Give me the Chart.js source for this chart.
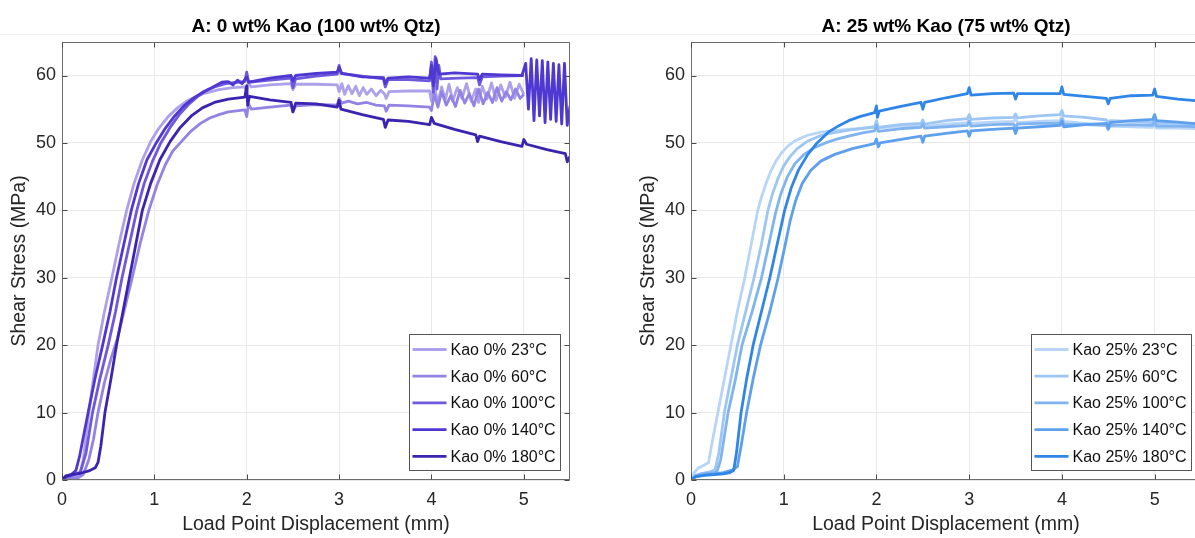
<!DOCTYPE html>
<html>
<head>
<meta charset="utf-8">
<title>Shear stress vs load point displacement</title>
<script src="https://cdn.jsdelivr.net/npm/chart.js@4.4.1/dist/chart.umd.min.js"></script>
<style>
  html, body { margin: 0; padding: 0; background: #fff; overflow: hidden; }
  #wrap { position: relative; width: 1195px; height: 538px; overflow: hidden; background: #fff; }
  .panel { position: absolute; top: 0; }
  #p1 { left: 0; }
  #p2 { left: 629px; }
  .rule { position: absolute; left: 0; top: 34px; width: 1195px; height: 1px; background: #f2f2f2; }
</style>
</head>
<body>
<div id="wrap">
  <div class="rule"></div>
  <canvas id="p1" class="panel" width="600" height="538"></canvas>
  <canvas id="p2" class="panel" width="602" height="538"></canvas>
</div>
<script>
// ---- Panel titles, axis titles, tick values ----
const titleLeft = 'A: 0 wt% Kao (100 wt% Qtz)';
const titleRight = 'A: 25 wt% Kao (75 wt% Qtz)';
const xTitle = 'Load Point Displacement (mm)';
const yTitle = 'Shear Stress (MPa)';
const xTicks = [0, 1, 2, 3, 4, 5];
const yTicks = [0, 10, 20, 30, 40, 50, 60];

// ---- Legend labels ----
const labels0 = ['Kao 0% 23°C', 'Kao 0% 60°C', 'Kao 0% 100°C', 'Kao 0% 140°C', 'Kao 0% 180°C'];
const labels25 = ['Kao 25% 23°C', 'Kao 25% 60°C', 'Kao 25% 100°C', 'Kao 25% 140°C', 'Kao 25% 180°C'];

// ---- 0 wt% kaolinite: [displacement mm, shear stress MPa] ----
const kao0_23C = [
  [0,0],[0.05,0.3],[0.14,0.4],[0.19,0.8],[0.23,3],[0.29,10],[0.34,15],[0.39,20],[0.46,25],[0.54,30],
  [0.62,35.2],[0.7,40],[0.78,44],[0.87,47.5],[0.96,50.2],[1.05,52.2],[1.15,53.9],[1.25,55.2],[1.35,56.2],
  [1.45,56.9],[1.55,57.4],[1.7,57.9],[1.85,58.2],[1.98,58.3],[2.0,57.6],[2.02,58.8],[2.05,58.3],[2.25,58.6],
  [2.48,58.8],[2.5,57.9],[2.53,58.7],[2.75,58.7],[2.98,58.6],[3.0,57.6],[3.03,58.8],[3.06,57.2],[3.1,58.5],
  [3.14,57.3],[3.18,58.4],[3.22,57.0],[3.26,58.2],[3.3,57.2],[3.35,58.0],[3.4,57.0],[3.45,57.8],[3.49,57.3],
  [3.51,56.6],[3.54,57.6],[3.75,57.7],[3.98,57.7],[4.0,56.2],[4.03,58.5],[4.07,56.0],[4.11,58.3],[4.15,56.4],
  [4.19,58.7],[4.23,56.2],[4.28,58.2],[4.33,56.6],[4.38,58.8],[4.43,56.2],[4.48,58.0],[4.51,56.0],[4.55,58.4],
  [4.6,56.5],[4.65,58.9],[4.7,56.3],[4.75,58.6],[4.8,56.8],[4.85,59.0],[4.9,56.6],[4.95,58.7],[5.0,57.2]
];
const kao0_60C = [
  [0,0],[0.08,0.2],[0.17,0.3],[0.23,0.8],[0.29,3],[0.34,6],[0.39,10],[0.46,14.5],[0.53,18],[0.6,21],
  [0.68,25.5],[0.76,30],[0.85,35.3],[0.94,40],[1.03,43.8],[1.12,46.8],[1.2,48.8],[1.28,50],[1.4,51.8],
  [1.5,52.9],[1.6,53.7],[1.7,54.2],[1.8,54.6],[1.98,54.9],[2.0,53.9],[2.02,55.8],[2.05,55.0],[2.25,55.3],
  [2.48,55.6],[2.5,54.6],[2.53,55.5],[2.75,55.7],[2.98,55.6],[3.0,56.6],[3.03,55.9],[3.1,56.2],[3.2,55.8],
  [3.3,56.0],[3.4,55.6],[3.49,55.5],[3.51,54.7],[3.54,55.6],[3.75,55.5],[3.98,55.3],[4.0,54.8],[4.03,57.2],
  [4.07,55.3],[4.11,57.6],[4.16,55.6],[4.21,57.0],[4.26,55.4],[4.31,57.8],[4.36,55.9],[4.41,57.3],[4.46,55.5],
  [4.51,58.0],[4.56,55.8],[4.61,57.5],[4.66,56.0],[4.71,58.2],[4.76,56.2],[4.81,57.6],[4.86,56.4],[4.91,58.0],
  [4.96,56.6],[5.0,57.2]
];
const kao0_100C = [
  [0,0],[0.05,0.5],[0.12,0.7],[0.2,1.2],[0.26,4],[0.33,10],[0.41,15],[0.5,20],[0.58,25],[0.65,30],
  [0.73,35],[0.81,40],[0.89,44],[0.98,47.3],[1.07,50],[1.17,52.3],[1.27,54.2],[1.37,55.7],[1.47,56.9],
  [1.57,57.8],[1.67,58.4],[1.77,58.8],[1.9,59.0],[1.98,59.1],[2.0,60.5],[2.02,59.0],[2.25,59.3],[2.48,59.6],
  [2.5,58.2],[2.53,59.5],[2.75,59.9],[2.98,60.2],[3.0,61.5],[3.02,60.3],[3.25,59.9],[3.48,59.5],[3.5,58.3],
  [3.53,59.4],[3.75,59.4],[3.98,59.2],[4.0,62.0],[4.02,57.5],[4.04,62.8],[4.06,58.0],[4.08,61.5],[4.1,59.5],
  [4.3,59.6],[4.5,59.7],[4.52,58.6],[4.55,59.8],[4.75,59.9],[5.0,60.0]
];
const kao0_140C = [
  [0,0],[0.04,0.6],[0.1,0.8],[0.15,1.4],[0.19,3.5],[0.24,7],[0.29,10.5],[0.36,15.2],[0.44,20],[0.52,25],
  [0.59,30],[0.67,35],[0.75,40],[0.83,44],[0.92,47.5],[1.02,50],[1.12,52.2],[1.22,54],[1.32,55.5],[1.42,56.6],
  [1.52,57.5],[1.62,58.2],[1.73,59.0],[1.8,59.1],[1.85,58.6],[1.9,59.3],[1.95,58.8],[2.0,59.8],[2.02,59.0],
  [2.25,59.6],[2.48,60.0],[2.5,59.2],[2.53,60.0],[2.75,60.3],[2.98,60.5],[3.0,61.2],[3.03,60.3],[3.25,59.8],
  [3.48,59.7],[3.5,58.8],[3.53,59.6],[3.75,59.8],[3.98,59.6],[4.0,61.5],[4.02,58.5],[4.05,62.5],[4.08,60.2],
  [4.25,60.4],[4.5,60.2],[4.52,59.4],[4.55,60.2],[4.75,60.1],[4.98,60.0],[5.02,61.8],[5.05,55.0],[5.08,62.5],
  [5.11,53.3],[5.14,62.3],[5.17,54.0],[5.2,62.2],[5.23,53.0],[5.26,62.0],[5.29,53.5],[5.32,61.8],[5.35,53.2],
  [5.38,61.6],[5.41,52.8],[5.44,61.8],[5.47,52.6],[5.5,55.5]
];
const kao0_180C = [
  [0,0],[0.04,0.5],[0.1,0.8],[0.2,1.0],[0.3,1.4],[0.36,1.8],[0.39,2.6],[0.42,5],[0.465,10],[0.53,15],
  [0.59,20],[0.66,25],[0.73,30],[0.8,35],[0.87,40],[0.96,44],[1.06,47.5],[1.17,50.2],[1.28,52.3],[1.4,54],
  [1.52,55.2],[1.65,56.0],[1.8,56.5],[1.98,56.8],[2.0,58.5],[2.01,55.6],[2.03,56.9],[2.25,56.4],[2.48,56.0],
  [2.5,54.6],[2.53,55.9],[2.75,55.8],[2.98,55.3],[3.0,56.3],[3.02,55.0],[3.25,54.2],[3.48,53.5],[3.5,52.3],
  [3.53,53.4],[3.75,53.2],[3.98,52.7],[4.0,53.8],[4.03,52.9],[4.25,52.0],[4.48,51.2],[4.5,50.2],[4.52,51.0],
  [4.75,50.2],[4.98,49.5],[5.0,50.5],[5.03,49.8],[5.25,49.0],[5.45,48.4],[5.47,47.2],[5.5,48.0]
];

// ---- 25 wt% kaolinite: [displacement mm, shear stress MPa] ----
const kao25_23C = [
  [0,0],[0.03,1.0],[0.08,1.8],[0.14,2.2],[0.19,2.6],[0.22,5],[0.29,10],[0.36,15],[0.43,20],[0.5,25],
  [0.58,30],[0.65,35],[0.72,40],[0.76,42],[0.81,44],[0.86,45.8],[0.92,47.4],[0.98,48.6],[1.05,49.6],
  [1.12,50.3],[1.25,51.1],[1.4,51.6],[1.6,51.9],[1.8,52.1],[1.98,52.3],[2.0,53.0],[2.02,52.2],[2.25,52.5],
  [2.48,52.6],[2.5,53.1],[2.52,52.4],[2.75,52.8],[2.98,53.0],[3.0,53.6],[3.02,52.9],[3.25,53.1],[3.48,53.2],
  [3.5,53.6],[3.52,53.0],[3.75,53.2],[3.98,53.3],[4.0,54.0],[4.02,53.2],[4.25,52.9],[4.48,52.6],[4.5,52.0],
  [4.52,52.5],[4.75,52.4],[4.98,52.3],[5.0,52.8],[5.02,52.2],[5.25,52.2],[5.5,52.1]
];
const kao25_60C = [
  [0,0],[0.05,0.7],[0.12,1.0],[0.2,1.2],[0.26,1.5],[0.3,4],[0.36,10],[0.43,15],[0.5,20],[0.59,25],
  [0.68,30],[0.76,35],[0.83,40],[0.88,42.5],[0.94,44.8],[1.0,46.6],[1.07,48.0],[1.15,49.2],[1.25,50.2],
  [1.38,51],[1.5,51.4],[1.7,51.9],[1.98,52.4],[2.0,53.3],[2.02,52.3],[2.25,52.7],[2.48,52.9],[2.5,53.4],
  [2.52,52.8],[2.75,53.3],[2.98,53.6],[3.0,54.2],[3.02,53.5],[3.25,53.7],[3.48,53.8],[3.5,54.3],[3.52,53.7],
  [3.75,54.0],[3.98,54.2],[4.0,54.8],[4.02,54.0],[4.25,53.8],[4.48,53.4],[4.5,53.0],[4.52,53.3],[4.75,53.2],
  [4.98,53.0],[5.0,53.6],[5.02,52.9],[5.25,52.9],[5.5,52.8]
];
const kao25_100C = [
  [0,0],[0.05,0.6],[0.12,0.9],[0.2,1.0],[0.28,1.2],[0.32,3],[0.4,10],[0.48,15],[0.55,20],[0.66,25],
  [0.76,30],[0.84,35],[0.91,39.5],[0.97,42.5],[1.04,45],[1.12,46.9],[1.22,48.3],[1.33,49.3],[1.45,50],
  [1.58,50.6],[1.7,51],[1.85,51.5],[1.98,51.8],[2.0,52.6],[2.02,51.7],[2.25,52.1],[2.48,52.3],[2.5,52.8],
  [2.52,52.2],[2.75,52.4],[2.98,52.6],[3.0,53.2],[3.02,52.5],[3.25,52.7],[3.48,52.8],[3.5,52.2],[3.52,52.8],
  [3.75,52.9],[3.98,52.9],[4.0,53.5],[4.02,52.8],[4.25,52.7],[4.48,52.6],[4.5,52.0],[4.52,52.6],[4.75,52.7],
  [4.98,52.6],[5.0,53.2],[5.02,52.5],[5.25,52.5],[5.5,52.4]
];
const kao25_140C = [
  [0,0],[0.05,0.5],[0.15,0.8],[0.25,0.9],[0.35,1.1],[0.45,1.5],[0.5,2.0],[0.54,5],[0.6,10],[0.67,15],
  [0.75,20],[0.85,25],[0.94,30],[1.01,34.5],[1.07,38.5],[1.13,41.5],[1.2,44],[1.29,45.9],[1.4,47.3],
  [1.55,48.3],[1.75,49.2],[1.98,49.9],[2.0,50.6],[2.02,49.4],[2.04,50.0],[2.25,50.5],[2.48,51.0],[2.5,50.1],
  [2.52,51.0],[2.75,51.4],[2.98,51.8],[3.0,51.0],[3.02,51.8],[3.25,52.0],[3.48,52.2],[3.5,51.4],[3.52,52.2],
  [3.75,52.4],[3.98,52.6],[4.0,53.2],[4.02,52.4],[4.25,52.7],[4.48,52.9],[4.5,52.2],[4.52,53.0],[4.75,53.3],
  [4.98,53.5],[5.0,54.2],[5.02,53.3],[5.25,53.1],[5.5,52.8]
];
const kao25_180C = [
  [0,0],[0.05,0.5],[0.15,0.7],[0.25,0.8],[0.35,0.9],[0.42,1.1],[0.46,1.4],[0.49,4],[0.54,10],[0.6,15],
  [0.67,20],[0.76,25],[0.85,30],[0.93,35],[1.01,40],[1.08,43.3],[1.16,46],[1.26,48.3],[1.36,50],[1.48,51.6],
  [1.6,52.6],[1.7,53.3],[1.82,53.9],[1.98,54.5],[2.0,55.5],[2.01,53.8],[2.03,54.7],[2.25,55.4],[2.48,56.0],
  [2.5,55.0],[2.52,56.0],[2.75,56.7],[2.98,57.3],[3.0,58.2],[3.02,57.1],[3.25,57.3],[3.48,57.4],[3.5,56.5],
  [3.52,57.3],[3.75,57.3],[3.98,57.3],[4.0,58.3],[4.02,57.2],[4.25,56.9],[4.48,56.6],[4.5,55.8],[4.52,56.6],
  [4.75,57.0],[4.98,57.1],[5.0,58.0],[5.02,56.9],[5.25,56.5],[5.5,56.2]
];

// ---- Line colours, light (23 °C) to dark (180 °C) ----
const purples = ['#aca1ea', '#9383e4', '#6e59dc', '#4f38d2', '#3a24b0'];
const blues = ['#b8d5f7', '#9ec6f4', '#7fb4f1', '#5ea0ee', '#2f86e7'];

const FONT = '"Liberation Sans", Arial, Helvetica, sans-serif';
const INK = '#262626';

// Axes box with inward tick marks on all four sides
const axesBox = {
  id: 'axesBox',
  afterDatasetsDraw(chart) {
    const { ctx, chartArea: a, scales: { x, y } } = chart;
    const L = Math.round(a.left) + 0.5, R = Math.round(a.right) - 0.5;
    const T = Math.round(a.top) + 0.5, B = Math.round(a.bottom) - 0.5;
    ctx.save();
    ctx.strokeStyle = '#6e6e6e';
    ctx.lineWidth = 1;
    ctx.strokeRect(L, T, R - L, B - T);
    ctx.strokeStyle = '#4a4a4a';
    ctx.beginPath();
    x.ticks.forEach(t => {
      const px = Math.round(x.getPixelForValue(t.value)) + 0.5;
      ctx.moveTo(px, B); ctx.lineTo(px, B - 5);
      ctx.moveTo(px, T); ctx.lineTo(px, T + 5);
    });
    y.ticks.forEach(t => {
      const py = Math.round(y.getPixelForValue(t.value)) + 0.5;
      ctx.moveTo(L, py); ctx.lineTo(L + 5, py);
      ctx.moveTo(R, py); ctx.lineTo(R - 5, py);
    });
    ctx.stroke();
    ctx.restore();
  }
};

// Boxed legend in the lower-right corner of the plot area
const boxLegend = {
  id: 'boxLegend',
  afterDraw(chart) {
    const { ctx, chartArea: a } = chart;
    const sets = chart.data.datasets;
    ctx.save();
    ctx.font = '16px ' + FONT;
    let tw = 0;
    sets.forEach(d => { tw = Math.max(tw, ctx.measureText(d.label).width); });
    const w = Math.round(41 + tw + 5), h = 136;
    const x0 = Math.round(a.right - 10 - w) + 0.5;
    const y0 = Math.round(a.bottom - 10 - h) + 0.5;
    ctx.fillStyle = '#fff';
    ctx.fillRect(x0, y0, w, h);
    ctx.strokeStyle = '#555';
    ctx.lineWidth = 1;
    ctx.strokeRect(x0, y0, w, h);
    ctx.textBaseline = 'middle';
    ctx.textAlign = 'left';
    sets.forEach((d, i) => {
      const cy = y0 + 15 + i * 26.7;
      ctx.strokeStyle = d.borderColor;
      ctx.lineWidth = 2.8;
      ctx.beginPath();
      ctx.moveTo(x0 + 3, cy);
      ctx.lineTo(x0 + 37, cy);
      ctx.stroke();
      ctx.fillStyle = '#111';
      ctx.fillText(d.label, x0 + 41, cy + 1);
    });
    ctx.restore();
  }
};

function drawPanel(id, title, names, series, colors) {
  const n = series.length;
  return new Chart(document.getElementById(id), {
    type: 'scatter',
    data: {
      datasets: series.map((s, i) => ({
        label: names[i],
        data: s.map(p => ({ x: p[0], y: p[1] })),
        showLine: true,
        borderColor: colors[i],
        backgroundColor: colors[i],
        borderWidth: 2.8,
        borderJoinStyle: 'round',
        pointRadius: 0,
        pointHoverRadius: 0,
        tension: 0,
        order: n - i
      }))
    },
    options: {
      responsive: false,
      animation: false,
      events: [],
      layout: { padding: { left: 0, right: 30, top: 0, bottom: 0 } },
      plugins: {
        legend: { display: false },
        tooltip: { enabled: false },
        title: {
          display: true,
          text: title,
          fullSize: false,
          color: '#000',
          font: { family: FONT, size: 19, weight: 'bold', lineHeight: 1.2 },
          padding: { top: 15, bottom: 4 }
        }
      },
      scales: {
        x: {
          type: 'linear',
          min: 0,
          max: 5.5,
          afterBuildTicks: s => { s.ticks = xTicks.map(v => ({ value: v })); },
          afterFit: s => { s.height = 58; },
          ticks: { color: INK, font: { family: FONT, size: 18 }, padding: 9, maxRotation: 0 },
          grid: { color: '#e9e9e9', lineWidth: 1, drawTicks: false },
          border: { display: false },
          title: { display: true, text: xTitle, color: INK, font: { family: FONT, size: 19.5 }, padding: { top: 0, bottom: 2 } }
        },
        y: {
          type: 'linear',
          min: 0,
          max: 65,
          afterBuildTicks: s => { s.ticks = yTicks.map(v => ({ value: v })); },
          afterFit: s => { s.width = 62; },
          ticks: { color: INK, font: { family: FONT, size: 18 }, padding: 6 },
          grid: { color: '#e9e9e9', lineWidth: 1, drawTicks: false },
          border: { display: false },
          title: { display: true, text: yTitle, color: INK, font: { family: FONT, size: 19.5 }, padding: { top: 8, bottom: 0 } }
        }
      }
    },
    plugins: [axesBox, boxLegend]
  });
}

drawPanel('p1', titleLeft, labels0, [kao0_23C, kao0_60C, kao0_100C, kao0_140C, kao0_180C], purples);
drawPanel('p2', titleRight, labels25, [kao25_23C, kao25_60C, kao25_100C, kao25_140C, kao25_180C], blues);
</script>
</body>
</html>
